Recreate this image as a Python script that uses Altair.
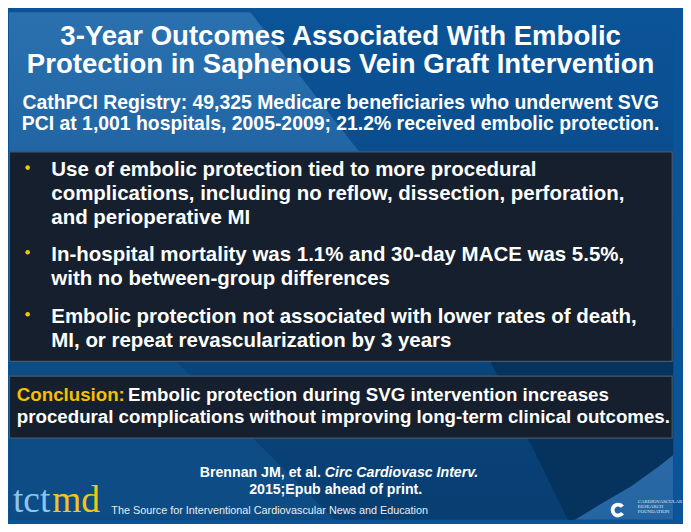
import altair as alt
import pandas as pd

# ---------------- content ----------------
TITLE_LINES = ["3-Year Outcomes Associated With Embolic",
               "Protection in Saphenous Vein Graft Intervention"]
SUBTITLE_LINES = ["CathPCI Registry: 49,325 Medicare beneficiaries who underwent SVG",
                  "PCI at 1,001 hospitals, 2005-2009; 21.2% received embolic protection."]
BULLETS = [
    ["Use of embolic protection tied to more procedural",
     "complications, including no reflow, dissection, perforation,",
     "and perioperative MI"],
    ["In-hospital mortality was 1.1% and 30-day MACE was 5.5%,",
     "with no between-group differences"],
    ["Embolic protection not associated with lower rates of death,",
     "MI, or repeat revascularization by 3 years"],
]
CONCLUSION_LABEL = "Conclusion:"
CONCLUSION_LINES = ["Embolic protection during SVG intervention increases",
                    "procedural complications without improving long-term clinical outcomes."]
CITATION_PLAIN = "Brennan JM, et al."
CITATION_ITALIC = "Circ Cardiovasc Interv."
CITATION_LINE2 = "2015;Epub ahead of print."
LOGO_PARTS = ["tct", "md"]
TAGLINE = "The Source for Interventional Cardiovascular News and Education"
CRF_LINES = ["CARDIOVASCULAR", "RESEARCH", "FOUNDATION"]

# ---------------- layout (slide pixel coordinates) ----------------
X0, Y0 = 8, 8
CHART_W, CHART_H = 675, 516
CENTER_X = 345
TITLE_Y = [41, 70]
SUB_Y = [106, 128]
BULLET_Y = [[175, 199, 223], [261, 285], [324, 348]]
BULLET_TEXT_X = 51
BULLET_DOT_X = 27
BOX1 = (8.5, 150, 682, 363)
BOX2 = (8.5, 378, 682, 441)
CONC_X = 16
CONC_REST_X = 129
CONC_Y = [403, 426]
CIT_SPLIT_X = 327
CIT_Y = [480, 498]
LOGO_X = [12, 52]
LOGO_Y = 516
TAGLINE_X = 112
TAGLINE_Y = 518
CRF_ICON = (627, 514)
CRF_X = 647
CRF_Y = [507, 512, 517]

xs = alt.Scale(domain=[X0, X0 + CHART_W], range=[0, CHART_W])
ys = alt.Scale(domain=[Y0, Y0 + CHART_H], range=[0, CHART_H])


def X(f="x"):
    return alt.X(f"{f}:Q", scale=xs, axis=None)


def Y(f="y"):
    return alt.Y(f"{f}:Q", scale=ys, axis=None)


def grad(c1, c2, vertical=True):
    return alt.Gradient(gradient="linear",
                        stops=[alt.GradientStop(color=c1, offset=0),
                               alt.GradientStop(color=c2, offset=1)],
                        x1=0, y1=0, x2=0 if vertical else 1, y2=1 if vertical else 0)


# ---------------- background ----------------
bg = alt.Chart(pd.DataFrame([{"x": 0, "x2": 691, "y": 0, "y2": 532}])).mark_rect(
    clip=True,
    color=alt.Gradient(gradient="linear",
                       stops=[alt.GradientStop(color="#0b5498", offset=0),
                              alt.GradientStop(color="#0a4c8c", offset=0.35),
                              alt.GradientStop(color="#09447a", offset=0.7),
                              alt.GradientStop(color="#083e72", offset=1)],
                       x1=0, y1=0, x2=0, y2=1)
).encode(x=X(), x2=alt.X2("x2:Q"), y=Y(), y2=alt.Y2("y2:Q"))

area_a = pd.DataFrame({"y": [0, 300], "x": [0, 0], "x2": [247, 481]})
band_a = alt.Chart(area_a).mark_area(orient="horizontal", clip=True,
                                     color=grad("#2b71b0", "#175a98")).encode(
    y=Y(), x=X(), x2=alt.X2("x2:Q"))

area_b = pd.DataFrame({"y": [300, 532], "x": [0, 0], "x2": [115, 347]})
band_b = alt.Chart(area_b).mark_area(orient="horizontal", clip=True, color="#0d4c84").encode(
    y=Y(), x=X(), x2=alt.X2("x2:Q"))

area_c = pd.DataFrame({"y": [330, 532], "x": [481, 580], "x2": [691, 691]})
band_c = alt.Chart(area_c).mark_area(orient="horizontal", clip=True, color="#06325e").encode(
    y=Y(), x=X(), x2=alt.X2("x2:Q"))

area_d = pd.DataFrame({"y": [452, 470, 490, 510, 532],
                       "x": [691, 668, 640, 606, 570],
                       "x2": [691, 691, 691, 691, 691]})
band_d = alt.Chart(area_d).mark_area(orient="horizontal", clip=True,
                                     color=grad("#2c6aa6", "#2364a2")).encode(
    y=Y(), x=X(), x2=alt.X2("x2:Q"))

boxes = alt.Chart(pd.DataFrame([
    {"x": BOX1[0], "y": BOX1[1], "x2": BOX1[2], "y2": BOX1[3]},
    {"x": BOX2[0], "y": BOX2[1], "x2": BOX2[2], "y2": BOX2[3]},
])).mark_rect(color="#151f2d", stroke="#44596f", strokeWidth=1.2).encode(
    x=X(), x2=alt.X2("x2:Q"), y=Y(), y2=alt.Y2("y2:Q"))


# ---------------- text ----------------
def text_layer(df, size, color, weight="bold", align="left",
               font="Liberation Sans", style="normal"):
    return alt.Chart(df).mark_text(
        align=align, baseline="alphabetic", font=font, fontSize=size,
        fontWeight=weight, fontStyle=style, color=color
    ).encode(x=X(), y=Y(), text="text:N")


title_df = pd.DataFrame({"text": TITLE_LINES, "x": [CENTER_X] * 2, "y": TITLE_Y})
title = text_layer(title_df, 28, "#ffffff", align="center")

sub_df = pd.DataFrame({"text": SUBTITLE_LINES, "x": [CENTER_X] * 2, "y": SUB_Y})
subtitle = text_layer(sub_df, 19.7, "#ffffff", align="center")

b_rows, d_rows = [], []
for lines, ys_ in zip(BULLETS, BULLET_Y):
    for i, (t, yy) in enumerate(zip(lines, ys_)):
        b_rows.append({"text": t, "x": BULLET_TEXT_X, "y": yy})
        if i == 0:
            d_rows.append({"x": BULLET_DOT_X, "y": yy - 9})
bullets = text_layer(pd.DataFrame(b_rows), 20.8, "#ffffff")
dots = alt.Chart(pd.DataFrame(d_rows)).mark_circle(size=22, color="#f2c80f", opacity=1).encode(
    x=X(), y=Y())

conc_label = text_layer(pd.DataFrame([{"text": CONCLUSION_LABEL, "x": CONC_X, "y": CONC_Y[0]}]),
                        19, "#f5c000")
conc_text = text_layer(pd.DataFrame([
    {"text": CONCLUSION_LINES[0], "x": CONC_REST_X, "y": CONC_Y[0]},
    {"text": CONCLUSION_LINES[1], "x": CONC_X, "y": CONC_Y[1]},
]), 19, "#ffffff")

cit_plain = text_layer(pd.DataFrame([{"text": CITATION_PLAIN, "x": CIT_SPLIT_X - 2, "y": CIT_Y[0]}]),
                       14.4, "#ffffff", align="right")
cit_italic = text_layer(pd.DataFrame([{"text": CITATION_ITALIC, "x": CIT_SPLIT_X + 2, "y": CIT_Y[0]}]),
                        14.4, "#ffffff", align="left", style="italic")
cit_line2 = text_layer(pd.DataFrame([{"text": CITATION_LINE2, "x": 340, "y": CIT_Y[1]}]),
                       14.4, "#ffffff", align="center")

logo_tct = text_layer(pd.DataFrame([{"text": LOGO_PARTS[0], "x": LOGO_X[0], "y": LOGO_Y}]),
                      38, "#8cc4ee", weight="normal", font="Liberation Serif")
logo_md = text_layer(pd.DataFrame([{"text": LOGO_PARTS[1], "x": LOGO_X[1], "y": LOGO_Y}]),
                     38, "#f2c41c", weight="normal", font="Liberation Serif")
tagline = text_layer(pd.DataFrame([{"text": TAGLINE, "x": TAGLINE_X, "y": TAGLINE_Y}]),
                     11, "#e6edf5", weight="normal")

crf_icon = alt.Chart(pd.DataFrame([{"x": CRF_ICON[0], "y": CRF_ICON[1]}])).mark_arc(
    radius=7.5, radius2=3.6, theta=2.2, theta2=7.2, color="#ffffff").encode(x=X(), y=Y())
crf_text = text_layer(pd.DataFrame({"text": CRF_LINES, "x": [CRF_X] * 3, "y": CRF_Y}),
                      5, "#dfe8f2", weight="normal", font="Liberation Serif")

chart = alt.layer(
    bg, band_a, band_b, band_c, band_d, boxes,
    title, subtitle, dots, bullets,
    conc_label, conc_text, cit_plain, cit_italic, cit_line2,
    logo_tct, logo_md, tagline, crf_icon, crf_text,
).properties(width=CHART_W, height=CHART_H, padding=0, background="#0b5498").configure_view(
    stroke=None
)

chart.save("out.html", embed_options={"renderer": "svg", "actions": False})
